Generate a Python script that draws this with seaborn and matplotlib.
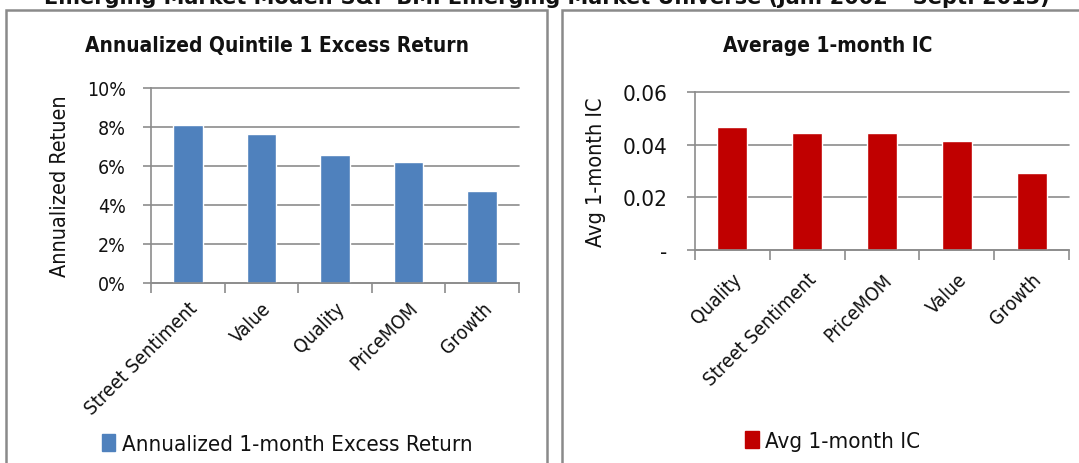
import matplotlib
matplotlib.use('Agg')
import numpy as np
import pandas as pd
import seaborn as sns
from matplotlib import pyplot as plt
from matplotlib.patches import Rectangle, Patch
from matplotlib.ticker import FixedLocator, FixedFormatter, PercentFormatter

# data
ret_factors = ['Street Sentiment', 'Value', 'Quality', 'PriceMOM', 'Growth']
ret_values = [0.081, 0.0765, 0.0655, 0.062, 0.047]

ic_factors = ['Quality', 'Street Sentiment', 'PriceMOM', 'Value', 'Growth']
ic_values = [0.0466, 0.0445, 0.0443, 0.0415, 0.0293]

sup_title = 'Emerging Market Model: S&P BMI Emerging Market Universe (Jan. 2002 \u2013 Sept. 2013)'

BLUE = '#4F81BD'
RED = '#C00000'
GRID = '#8C8C8C'
INK = '#111111'
W, H = 1079, 464

sns.set_style('white')
plt.rcParams['font.family'] = ['DejaVu Sans']
plt.rcParams['font.stretch'] = 'condensed'
plt.rcParams['text.color'] = INK
plt.rcParams['axes.labelcolor'] = INK

fig = plt.figure(figsize=(W / 100, H / 100), dpi=100)


def px_axes(x0, x1, y_top, y_bot):
    return fig.add_axes([x0 / W, 1 - y_bot / H, (x1 - x0) / W, (y_bot - y_top) / H])


def style_axes(ax, ypad, xpad, ysize):
    for side in ('top', 'right'):
        ax.spines[side].set_visible(False)
    for side in ('left', 'bottom'):
        ax.spines[side].set_color(GRID)
        ax.spines[side].set_linewidth(1.2)
    ax.yaxis.grid(True, color=GRID, linewidth=1.2)
    for line in ax.get_ygridlines():
        line.set_clip_on(False)
    ax.set_axisbelow(True)
    ax.set_xlim(-0.5, 4.5)
    ax.xaxis.set_minor_locator(FixedLocator(np.arange(-0.5, 5, 1.0)))
    ax.tick_params(axis='x', which='major', bottom=False, length=0, pad=xpad,
                   labelsize=14, labelcolor=INK)
    ax.tick_params(axis='x', which='minor', bottom=True, length=7, color=GRID, width=1.2, direction='out')
    ax.tick_params(axis='y', which='major', left=True, length=6, color=GRID, width=1.2,
                   direction='out', labelsize=ysize, pad=ypad, labelcolor=INK)
    for lab in ax.get_xticklabels():
        lab.set_rotation(45)
        lab.set_ha('right')
        lab.set_rotation_mode('anchor')
    ax.set_xlabel('')


# panel frames
for x0, x1 in ((6, 547), (562, 1090)):
    fig.patches.append(Rectangle((x0 / W, -0.05), (x1 - x0) / W, 1.05 - 11 / H,
                                 transform=fig.transFigure, fill=False,
                                 edgecolor='#8A8A8A', linewidth=1.8))

fig.text(547 / W, 1 - 4 / H, sup_title, ha='center', va='baseline',
         fontsize=15, fontweight='bold', fontstretch='normal')

# left panel
ax1 = px_axes(151, 519, 89, 284)
df1 = pd.DataFrame({'factor': ret_factors, 'ret': ret_values})
sns.barplot(data=df1, x='factor', y='ret', color=BLUE, width=0.4, saturation=1, ax=ax1)
ax1.set_ylim(0, 0.10)
ax1.set_yticks(np.arange(0, 0.101, 0.02))
ax1.yaxis.set_major_formatter(PercentFormatter(1.0, decimals=0))
style_axes(ax1, 12, 11, 14)
ax1.set_ylabel('Annualized Retuen', fontsize=15.5, labelpad=12)
fig.text(277 / W, 1 - 46 / H, 'Annualized Quintile 1 Excess Return', ha='center', va='center',
         fontsize=15, fontweight='bold')
fig.legend(handles=[Patch(color=BLUE, label='Annualized 1-month Excess Return')],
           loc='center', bbox_to_anchor=(287 / W, 1 - 445 / H), frameon=False,
           fontsize=16, handlelength=0.6, handleheight=0.8, handletextpad=0.3)

# right panel
ax2 = px_axes(695, 1069, 93, 251)
df2 = pd.DataFrame({'factor': ic_factors, 'ic': ic_values})
sns.barplot(data=df2, x='factor', y='ic', color=RED, width=0.4, saturation=1, ax=ax2)
ax2.set_ylim(0, 0.06)
ax2.yaxis.set_major_locator(FixedLocator([0, 0.02, 0.04, 0.06]))
ax2.yaxis.set_major_formatter(FixedFormatter(['-', '0.02', '0.04', '0.06']))
style_axes(ax2, 14, 14, 16)
ax2.set_ylabel('Avg 1-month IC', fontsize=15.5, labelpad=12)
fig.text(828 / W, 1 - 46 / H, 'Average 1-month IC', ha='center', va='center',
         fontsize=15, fontweight='bold')
fig.legend(handles=[Patch(color=RED, label='Avg 1-month IC')],
           loc='center', bbox_to_anchor=(833 / W, 1 - 442 / H), frameon=False,
           fontsize=16, handlelength=0.6, handleheight=0.8, handletextpad=0.3)

fig.savefig('out.png', dpi=100)
